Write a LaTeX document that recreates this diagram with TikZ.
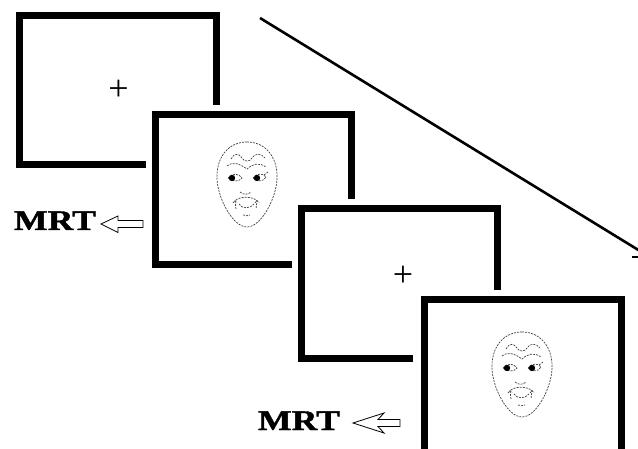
\documentclass[tikz,border=0pt]{standalone}
\usepackage{fontspec}
\setmainfont{Liberation Serif}
\newfontfamily\heavyserif[FakeBold=1.2]{Liberation Serif Bold}
\begin{document}
\begin{tikzpicture}[x=1pt,y=-1pt,
  screen/.style={line width=7pt,line join=miter,line cap=butt},
  timeline/.style={line width=2.6pt,line cap=butt},
  fix/.style={font=\fontsize{36}{36}\selectfont,inner sep=0pt,anchor=base},
  mrt/.style={font=\heavyserif\fontsize{28.5}{28.5}\selectfont,inner sep=0pt,anchor=base,xscale=1.25},
  hollow/.style={draw=black,fill=white,line width=0.8pt,line join=miter},
  sketch/.style={draw=black!75,line width=0.7pt,dash pattern=on 2pt off 1.1pt},
  face/.pic={
    % head outline
    \draw[sketch] (0,-42) .. controls (20,-42) and (31,-25) .. (30,-5)
      .. controls (29,15) and (14,43) .. (0,43)
      .. controls (-14,43) and (-29,15) .. (-30,-5)
      .. controls (-31,-25) and (-20,-42) .. (0,-42);
    % wrinkled brows
    \draw[sketch] (-16,-25) .. controls (-13,-31) and (-8,-31) .. (-5,-26)
      .. controls (-3,-22) and (3,-22) .. (5,-26)
      .. controls (8,-31) and (14,-31) .. (18,-26);
    \draw[sketch] (-20,-18) .. controls (-14,-23) and (-7,-20) .. (0,-15)
      .. controls (5,-20) and (12,-22) .. (19,-17);
    % eyes with pupils turned aside
    \draw[sketch] (-19,-6) .. controls (-15,-11) and (-8,-11) .. (-5,-6)
      .. controls (-8,-2) and (-15,-2) .. (-19,-6);
    \fill[black] (-15,-6) circle (3.2);
    \draw[sketch] (6,-6) .. controls (10,-11) and (16,-11) .. (19,-7)
      .. controls (16,-2) and (10,-2) .. (6,-6);
    \draw[sketch] (17,-9) -- (21,-12);
    \fill[black] (10,-6) circle (3.2);
    % nose
    \draw[sketch] (-7,8) .. controls (-4,11) and (1,11) .. (4,8);
    % mouth: upper lip, sides, inner lip and chin dash
    \draw[sketch] (-11,25) -- (-12,17) .. controls (-8,12) and (6,12) .. (10,17) -- (9,25);
    \draw[sketch] (-8,20) .. controls (-5,25) and (3,25) .. (7,20);
    \draw[sketch] (-14,19) -- (-12,16.5) -- (-10,19);
    \draw[sketch] (8,19) -- (10,16.5) -- (12,19);
    \draw[sketch] (-4,31) .. controls (-1,32) and (1,32) .. (3,31);
  }]
  \useasboundingbox (0,0) rectangle (638,449);
  \clip (0,0) rectangle (638,449);

  % successive screens, each partly hidden by the next
  \draw[screen] (146,165) -- (19.5,165) -- (19.5,15.5) -- (216.5,15.5) -- (216.5,105);
  \draw[screen] (292,265) -- (155.5,265) -- (155.5,114.5) -- (351.5,114.5) -- (351.5,199);
  \draw[screen] (413,358.5) -- (301,358.5) -- (301,208.5) -- (497.5,208.5) -- (497.5,290);
  \draw[screen] (424,449) -- (424,299.5) -- (621,299.5) -- (621,449);

  % fixation crosses
  \node[fix] (fix1) at (118.5,101) {+};
  \node[fix] (fix2) at (403,287) {+};

  % face stimuli
  \pic (face1) at (247,184) {face};
  \pic (face2) at (522,374) {face};

  % time axis
  \coordinate (tstart) at (260,18);
  \coordinate (tend) at (640,251);
  \draw[timeline] (tstart) -- (tend);
  \draw[line width=2.2pt] (632,257) -- (640,257);

  % response labels with hollow arrows
  \node[mrt] (mrt1) at (55,230) {MRT};
  \node[mrt] (mrt2) at (299,430) {MRT};
  \draw[hollow] (101,224) -- (118,216) -- (118,220.5) -- (143,220.5) -- (143,227.5)
    -- (118,227.5) -- (118,232.5) -- cycle;
  \draw[hollow] (353,423) -- (384,413) -- (378,419.5) -- (400,419.5) -- (400,426.5)
    -- (378,426.5) -- (384,433) -- cycle;
\end{tikzpicture}
\end{document}
